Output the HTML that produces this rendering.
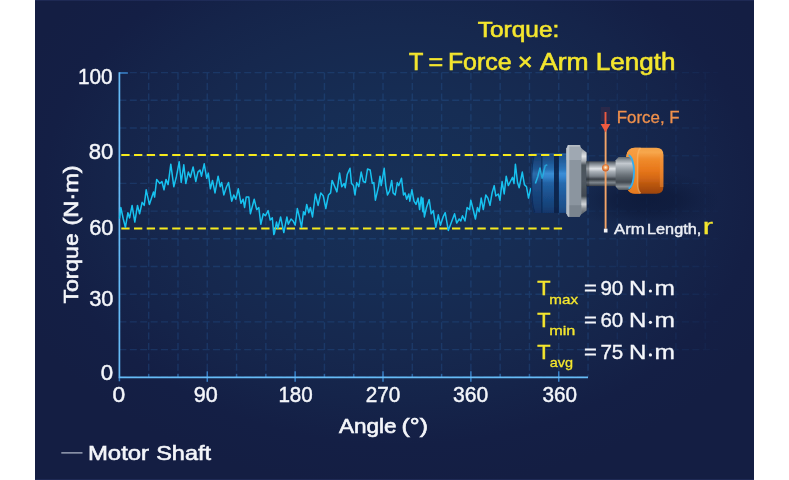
<!DOCTYPE html>
<html><head><meta charset="utf-8"><title>Torque</title>
<style>
html,body{margin:0;padding:0;background:#fff;}
body{width:789px;height:480px;overflow:hidden;}
svg{display:block;font-family:"Liberation Sans",sans-serif;}
</style></head><body>
<svg width="789" height="480" viewBox="0 0 789 480">
<defs>
<radialGradient id="bg" gradientUnits="userSpaceOnUse" cx="400" cy="190" r="420" gradientTransform="translate(400,190) scale(1,0.714) translate(-400,-190)">
<stop offset="0" stop-color="#173057"/>
<stop offset="0.3" stop-color="#162d54"/>
<stop offset="0.55" stop-color="#16284e"/>
<stop offset="0.7" stop-color="#15244a"/>
<stop offset="0.85" stop-color="#141f45"/>
<stop offset="1" stop-color="#141e43"/>
</radialGradient>
<radialGradient id="bg2" gradientUnits="userSpaceOnUse" cx="650" cy="120" r="230" gradientTransform="translate(650,120) scale(1,0.8) translate(-650,-120)">
<stop offset="0" stop-color="#24467f" stop-opacity="0.34"/>
<stop offset="0.5" stop-color="#24467f" stop-opacity="0.2"/>
<stop offset="1" stop-color="#24467f" stop-opacity="0"/>
</radialGradient>
<radialGradient id="shg" cx="0.5" cy="0.5" r="0.5">
<stop offset="0" stop-color="#0a1432" stop-opacity="0.62"/>
<stop offset="0.4" stop-color="#0a1432" stop-opacity="0.5"/>
<stop offset="0.72" stop-color="#0a1432" stop-opacity="0.18"/>
<stop offset="1" stop-color="#0a1432" stop-opacity="0"/>
</radialGradient>
<linearGradient id="gridfade" gradientUnits="userSpaceOnUse" x1="588" y1="0" x2="720" y2="0">
<stop offset="0" stop-color="#fff" stop-opacity="1"/>
<stop offset="0.8" stop-color="#fff" stop-opacity="0.85"/>
<stop offset="1" stop-color="#fff" stop-opacity="0.2"/>
</linearGradient>
<mask id="gm" maskUnits="userSpaceOnUse" x="0" y="0" width="789" height="480"><rect x="110" y="60" width="612" height="340" fill="url(#gridfade)"/></mask>
<linearGradient id="shaft" x1="0" y1="0" x2="0" y2="1">
<stop offset="0" stop-color="#4a5158"/>
<stop offset="0.10" stop-color="#7e868e"/>
<stop offset="0.30" stop-color="#dfe3e7"/>
<stop offset="0.42" stop-color="#a9b0b7"/>
<stop offset="0.60" stop-color="#7b838b"/>
<stop offset="0.72" stop-color="#394047"/>
<stop offset="0.86" stop-color="#7d858d"/>
<stop offset="1" stop-color="#3a4047"/>
</linearGradient>
<linearGradient id="flface" x1="0" y1="0" x2="1" y2="0">
<stop offset="0" stop-color="#d4d9de"/>
<stop offset="0.18" stop-color="#b3b9c0"/>
<stop offset="0.75" stop-color="#9aa1a9"/>
<stop offset="1" stop-color="#7d848c"/>
</linearGradient>
<linearGradient id="flside" x1="0" y1="0" x2="0" y2="1">
<stop offset="0" stop-color="#80878e"/>
<stop offset="0.07" stop-color="#b4bac0"/>
<stop offset="0.13" stop-color="#e2e5e8"/>
<stop offset="0.2" stop-color="#a9afb5"/>
<stop offset="0.26" stop-color="#4a525a"/>
<stop offset="0.5" stop-color="#4f5861"/>
<stop offset="0.72" stop-color="#414951"/>
<stop offset="0.78" stop-color="#9aa0a6"/>
<stop offset="0.84" stop-color="#d2d6da"/>
<stop offset="0.9" stop-color="#8a9097"/>
<stop offset="1" stop-color="#50575e"/>
</linearGradient>
<linearGradient id="blue" x1="0" y1="0" x2="0" y2="1">
<stop offset="0" stop-color="#1a447a"/>
<stop offset="0.12" stop-color="#1c548f"/>
<stop offset="0.26" stop-color="#2670b4"/>
<stop offset="0.34" stop-color="#3c92da"/>
<stop offset="0.40" stop-color="#3386cf"/>
<stop offset="0.50" stop-color="#2163a6"/>
<stop offset="0.72" stop-color="#1a4f8c"/>
<stop offset="0.9" stop-color="#164379"/>
<stop offset="1" stop-color="#12356a"/>
</linearGradient>
<linearGradient id="bluex" x1="0" y1="0" x2="1" y2="0">
<stop offset="0" stop-color="#16305e" stop-opacity="0.3"/>
<stop offset="0.06" stop-color="#16305e" stop-opacity="0.12"/>
<stop offset="0.3" stop-color="#16305e" stop-opacity="0.06"/>
<stop offset="0.32" stop-color="#16305e" stop-opacity="0"/>
<stop offset="1" stop-color="#16305e" stop-opacity="0"/>
</linearGradient>
<linearGradient id="orange" x1="0" y1="0" x2="0" y2="1">
<stop offset="0" stop-color="#f3a046"/>
<stop offset="0.1" stop-color="#f7a74c"/>
<stop offset="0.24" stop-color="#f08c2c"/>
<stop offset="0.48" stop-color="#e8781b"/>
<stop offset="0.66" stop-color="#d46815"/>
<stop offset="0.8" stop-color="#b9560f"/>
<stop offset="1" stop-color="#9c440a"/>
</linearGradient>
<linearGradient id="shaft2" x1="0" y1="0" x2="0" y2="1">
<stop offset="0" stop-color="#5c646b"/>
<stop offset="0.08" stop-color="#8a9299"/>
<stop offset="0.2" stop-color="#c3c9cf"/>
<stop offset="0.36" stop-color="#99a1a8"/>
<stop offset="0.55" stop-color="#6a7279"/>
<stop offset="0.76" stop-color="#434a51"/>
<stop offset="0.9" stop-color="#8a9299"/>
<stop offset="1" stop-color="#4a5158"/>
</linearGradient>
<linearGradient id="orim" x1="0" y1="0" x2="0" y2="1">
<stop offset="0" stop-color="#f6a048"/>
<stop offset="0.2" stop-color="#f7983a"/>
<stop offset="0.6" stop-color="#f38a28"/>
<stop offset="1" stop-color="#e47a20"/>
</linearGradient>
<radialGradient id="ball" cx="0.5" cy="0.45" r="0.5">
<stop offset="0" stop-color="#fff0d8"/>
<stop offset="0.35" stop-color="#f6c08a"/>
<stop offset="0.7" stop-color="#e8803c"/>
<stop offset="1" stop-color="#c8602a"/>
</radialGradient>
<linearGradient id="curvefade" gradientUnits="userSpaceOnUse" x1="532" y1="0" x2="550" y2="0">
<stop offset="0" stop-color="#22bff0" stop-opacity="1"/>
<stop offset="1" stop-color="#25bdec" stop-opacity="0.55"/>
</linearGradient>
<filter id="soft" filterUnits="userSpaceOnUse" x="0" y="0" width="789" height="480"><feGaussianBlur stdDeviation="0.45"/></filter>
<filter id="soft2" filterUnits="userSpaceOnUse" x="0" y="0" width="789" height="480"><feGaussianBlur stdDeviation="0.3"/></filter>
<filter id="sh" x="-60%" y="-150%" width="220%" height="400%"><feGaussianBlur stdDeviation="9"/></filter>
</defs>

<rect x="0" y="0" width="789" height="480" fill="#ffffff"/>
<rect x="35" y="0" width="719" height="480" fill="url(#bg)"/>

<rect x="35" y="0" width="719" height="1" fill="#2a386a" opacity="0.45"/>
<rect x="35" y="479" width="719" height="1" fill="#2a386a" opacity="0.45"/>

<!-- grid -->
<g stroke="#2f74c4" stroke-width="1.4" stroke-dasharray="7 3.4" fill="none" opacity="0.21" filter="url(#soft)">
<line x1="119.40" y1="72.6" x2="119.40" y2="377.3"/>
<line x1="148.69" y1="72.6" x2="148.69" y2="377.3"/>
<line x1="177.98" y1="72.6" x2="177.98" y2="377.3"/>
<line x1="207.27" y1="72.6" x2="207.27" y2="377.3"/>
<line x1="236.56" y1="72.6" x2="236.56" y2="377.3"/>
<line x1="265.85" y1="72.6" x2="265.85" y2="377.3"/>
<line x1="295.14" y1="72.6" x2="295.14" y2="377.3"/>
<line x1="324.43" y1="72.6" x2="324.43" y2="377.3"/>
<line x1="353.72" y1="72.6" x2="353.72" y2="377.3"/>
<line x1="383.01" y1="72.6" x2="383.01" y2="377.3"/>
<line x1="412.30" y1="72.6" x2="412.30" y2="377.3"/>
<line x1="441.59" y1="72.6" x2="441.59" y2="377.3"/>
<line x1="470.88" y1="72.6" x2="470.88" y2="377.3"/>
<line x1="500.17" y1="72.6" x2="500.17" y2="377.3"/>
<line x1="529.46" y1="72.6" x2="529.46" y2="377.3"/>
<line x1="558.75" y1="72.6" x2="558.75" y2="377.3"/>
<line x1="588.04" y1="72.6" x2="588.04" y2="377.3"/>
<line x1="119.4" y1="72.60" x2="588.0" y2="72.60"/>
<line x1="119.4" y1="100.30" x2="588.0" y2="100.30"/>
<line x1="119.4" y1="128.00" x2="588.0" y2="128.00"/>
<line x1="119.4" y1="155.70" x2="588.0" y2="155.70"/>
<line x1="119.4" y1="183.40" x2="588.0" y2="183.40"/>
<line x1="119.4" y1="211.10" x2="588.0" y2="211.10"/>
<line x1="119.4" y1="238.80" x2="588.0" y2="238.80"/>
<line x1="119.4" y1="266.50" x2="588.0" y2="266.50"/>
<line x1="119.4" y1="294.20" x2="588.0" y2="294.20"/>
<line x1="119.4" y1="321.90" x2="588.0" y2="321.90"/>
<line x1="119.4" y1="349.60" x2="588.0" y2="349.60"/>
<line x1="119.4" y1="377.30" x2="588.0" y2="377.30"/>
</g>
<g mask="url(#gm)"><g stroke="#2f74c4" stroke-width="1.4" stroke-dasharray="7 3.4" fill="none" opacity="0.12" filter="url(#soft)">
<line x1="617.33" y1="72.6" x2="617.33" y2="353.6"/>
<line x1="646.62" y1="72.6" x2="646.62" y2="353.6"/>
<line x1="675.91" y1="72.6" x2="675.91" y2="353.6"/>
<line x1="705.20" y1="72.6" x2="705.20" y2="353.6"/>
<line x1="588.4" y1="72.60" x2="718.0" y2="72.60"/>
<line x1="588.4" y1="100.30" x2="718.0" y2="100.30"/>
<line x1="588.4" y1="128.00" x2="718.0" y2="128.00"/>
<line x1="588.4" y1="155.70" x2="718.0" y2="155.70"/>
<line x1="588.4" y1="183.40" x2="718.0" y2="183.40"/>
<line x1="588.4" y1="211.10" x2="718.0" y2="211.10"/>
<line x1="588.4" y1="238.80" x2="718.0" y2="238.80"/>
<line x1="588.4" y1="266.50" x2="718.0" y2="266.50"/>
<line x1="588.4" y1="294.20" x2="718.0" y2="294.20"/>
<line x1="588.4" y1="321.90" x2="718.0" y2="321.90"/>
<line x1="588.4" y1="349.60" x2="718.0" y2="349.60"/>
</g></g>

<!-- axes -->
<g filter="url(#soft2)">
<g stroke="#3f90dc" stroke-width="1.5" fill="none" opacity="0.85">
<line x1="148.69" y1="373.8" x2="148.69" y2="377.3" opacity="0.6"/>
<line x1="177.98" y1="373.8" x2="177.98" y2="377.3" opacity="0.6"/>
<line x1="207.27" y1="371.3" x2="207.27" y2="381.8"/>
<line x1="236.56" y1="373.8" x2="236.56" y2="377.3" opacity="0.6"/>
<line x1="265.85" y1="373.8" x2="265.85" y2="377.3" opacity="0.6"/>
<line x1="295.14" y1="371.3" x2="295.14" y2="381.8"/>
<line x1="324.43" y1="373.8" x2="324.43" y2="377.3" opacity="0.6"/>
<line x1="353.72" y1="373.8" x2="353.72" y2="377.3" opacity="0.6"/>
<line x1="383.01" y1="371.3" x2="383.01" y2="381.8"/>
<line x1="412.30" y1="373.8" x2="412.30" y2="377.3" opacity="0.6"/>
<line x1="441.59" y1="373.8" x2="441.59" y2="377.3" opacity="0.6"/>
<line x1="470.88" y1="371.3" x2="470.88" y2="381.8"/>
<line x1="500.17" y1="373.8" x2="500.17" y2="377.3" opacity="0.6"/>
<line x1="529.46" y1="373.8" x2="529.46" y2="377.3" opacity="0.6"/>
<line x1="558.75" y1="371.3" x2="558.75" y2="381.8"/>
<line x1="119.40" y1="377.3" x2="119.40" y2="381.3"/>
<line x1="119.40" y1="73.0" x2="127.90" y2="73.0"/>
</g>
<path d="M119.4 72.2 V377.3 H588.0" stroke="#66bbf6" stroke-width="1.7" fill="none" stroke-linejoin="miter"/>
</g>

<!-- dashed yellow -->
<g stroke="#f6ea1e" stroke-width="1.8" stroke-dasharray="8.3 4.42" fill="none" filter="url(#soft2)">
<line x1="121.3" y1="228.5" x2="563" y2="228.5"/>
</g>

<!-- curve -->
<path d="M119.6 217.9 L120.8 207.5 L123.3 219.0 L125.4 227.3 L127.9 212.7 L129.6 217.9 L132.1 205.4 L134.8 222.1 L137.5 205.4 L139.6 213.8 L142.1 202.3 L144.2 205.4 L146.2 189.8 L149.4 204.4 L153.5 191.9 L154.6 197.1 L156.7 179.4 L159.8 183.5 L161.9 181.5 L164.0 189.8 L166.0 179.4 L168.1 184.6 L170.8 164.2 L173.8 186.7 L176.5 176.2 L179.2 161.7 L181.2 182.5 L183.8 164.8 L185.8 183.5 L188.3 172.1 L190.4 177.3 L193.1 166.9 L195.8 181.5 L197.9 172.1 L200.0 170.0 L201.5 176.2 L204.2 163.8 L206.7 178.3 L208.3 173.1 L210.4 188.8 L212.5 180.4 L215.0 192.9 L218.1 176.2 L220.2 186.7 L221.7 182.5 L223.8 195.0 L226.5 186.7 L228.5 182.5 L231.7 201.2 L233.8 195.0 L235.8 199.2 L238.3 188.8 L241.0 203.3 L243.1 199.2 L244.6 207.5 L246.2 197.1 L248.8 197.1 L250.4 213.8 L254.2 199.2 L256.7 209.6 L258.8 207.5 L260.8 224.2 L263.3 213.8 L265.4 215.8 L268.1 210.6 L270.2 220.0 L272.3 217.9 L273.8 234.6 L274.4 233.5 L276.5 222.1 L277.9 228.3 L280.6 216.9 L283.8 232.5 L286.9 216.9 L288.3 224.2 L291.0 219.0 L293.1 221.0 L295.2 225.2 L297.3 208.5 L299.4 216.9 L301.5 227.3 L303.5 211.7 L305.0 214.8 L306.7 204.4 L308.8 212.7 L310.4 207.5 L312.5 216.9 L315.4 194.0 L318.1 205.4 L320.8 192.9 L323.3 196.0 L325.8 208.5 L328.5 195.0 L330.6 192.9 L332.1 180.4 L334.8 186.7 L336.9 191.9 L339.6 173.1 L341.7 186.7 L344.2 183.5 L345.2 187.7 L347.3 174.2 L350.0 168.3 L351.5 183.5 L353.5 185.6 L355.0 195.0 L356.7 182.5 L358.8 186.7 L361.2 172.1 L363.3 181.5 L365.4 182.5 L367.5 169.0 L370.2 170.0 L372.3 183.5 L373.8 182.5 L375.4 200.2 L378.5 186.7 L380.0 176.2 L381.2 185.6 L384.2 168.3 L385.8 185.6 L387.5 195.0 L389.6 190.8 L391.7 180.4 L393.1 192.9 L395.2 195.0 L397.3 182.5 L398.8 185.6 L401.5 178.3 L403.5 195.0 L405.0 192.9 L406.7 199.2 L408.8 194.0 L409.8 201.2 L411.9 189.8 L414.0 201.2 L416.0 204.4 L418.1 198.1 L419.6 209.6 L421.2 197.1 L422.9 211.7 L422.9 198.1 L424.4 216.9 L426.5 207.5 L429.2 199.6 L431.2 213.8 L433.3 210.6 L435.8 227.3 L438.3 214.8 L440.4 225.2 L443.1 216.9 L445.2 212.7 L448.3 230.4 L451.5 222.1 L454.6 213.8 L456.7 223.1 L459.2 219.0 L460.8 221.0 L462.5 215.8 L465.0 221.0 L467.1 207.5 L469.6 209.6 L470.8 200.2 L472.9 208.5 L475.4 219.0 L477.5 207.5 L479.2 211.7 L481.2 198.1 L483.3 209.6 L485.8 195.0 L487.9 198.1 L490.0 205.4 L492.1 192.9 L494.2 185.6 L495.8 196.0 L498.3 194.0 L500.0 200.2 L502.1 181.5 L504.2 194.0 L506.2 176.2 L508.3 185.6 L510.4 181.5 L512.5 177.3 L514.0 183.5 L515.4 164.2 L517.5 182.5 L519.2 187.7 L522.3 172.1 L524.4 184.6 L526.5 186.7 L528.5 198.1 L530.6 188.8 L532.1 187.7 L533.8 170.0 L535.4 183.5" stroke="#18c2f0" stroke-width="1.5" fill="none" stroke-linejoin="round" stroke-linecap="round" filter="url(#soft2)"/>

<!-- motor -->
<ellipse cx="646" cy="200" rx="74" ry="30" fill="url(#shg)"/>
<g id="motor" filter="url(#soft)">

<!-- blue cylinder -->
<path d="M534 153.4 H567 V213 H534 Q531 205 531 183 Q531 161 534 153.4Z" fill="url(#blue)" opacity="0.96"/>
<path d="M534 153.4 H541.6 V213 H534 Q531 205 531 183 Q531 161 534 153.4Z" fill="#14305e" opacity="0.38"/>
<path d="M534.6 154 Q531.6 162 531.6 183 Q531.6 204 534.6 212.4" fill="none" stroke="#0d2450" stroke-width="1.2" opacity="0.7"/>
<rect x="541.2" y="153.4" width="1.3" height="59.6" fill="#0d2854" opacity="0.85"/>
<rect x="554" y="153.4" width="4.9" height="59.6" fill="#0a2044" opacity="0.88"/>
<rect x="531" y="153.4" width="36" height="1.2" fill="#3f86c8" opacity="0.35"/>
<rect x="558.9" y="153.6" width="8" height="59.2" fill="#3a8fe0" opacity="0.2"/>
<!-- flange side -->
<path d="M580.5 147.5 L586.6 152.5 V210.5 L580.5 215 Z" fill="url(#flside)"/>
<!-- flange face -->
<path d="M568.2 145.3 H579.6 L581.3 148.6 V213.6 L579.6 216.7 H568.2 L566.4 213.6 V148.6 Z" fill="#8b959f"/>
<path d="M568.2 145.3 H579.6 L581.3 148.6 V159.9 H566.4 V148.6 Z" fill="#9fa8b2"/>
<path d="M566.4 205.3 H581.3 V213.6 L579.6 216.7 H568.2 L566.4 213.6 Z" fill="#7a848e"/>
<path d="M568.2 145.3 L566.4 148.6 V213.6 L568.2 216.7 H569.3 V145.3 Z" fill="#c2cad2" opacity="0.85"/>
<rect x="567.4" y="145.3" width="13" height="1.1" fill="#d5dade" opacity="0.7"/>
<!-- orange cap -->
<path d="M635 147.7 H656.3 Q663.4 147.7 663.4 155 V186.4 Q663.4 193.7 656.3 193.7 H635 Q626.1 193.7 626.1 182 V159.4 Q626.1 147.7 635 147.7Z" fill="url(#orange)"/>
<path d="M635 147.7 H640.5 Q637 150 637 158 V183.4 Q637 191.4 640.5 193.7 H635 Q626.1 193.7 626.1 182 V159.4 Q626.1 147.7 635 147.7Z" fill="url(#orim)"/>
<path d="M640.6 148.2 Q637.6 150.5 637.6 158 V183.4 Q637.6 191 640.6 193.2" fill="none" stroke="#fbb668" stroke-width="1.5" opacity="0.7"/>
<rect x="659.8" y="154" width="3.6" height="33" fill="#f59c46" opacity="0.4"/>
<!-- shaft -->
<rect x="586.3" y="161.3" width="30" height="24.8" fill="url(#shaft)"/>
<rect x="586.3" y="161.3" width="3" height="24.8" fill="#20262c" opacity="0.35"/>
<path d="M615.6 160.2 L618.6 156.9 H628.6 A6 16.6 0 0 1 628.6 190 H618.6 L615.6 186.5 Z" fill="url(#shaft2)"/>
<path d="M628.6 155.2 A6.1 16.7 0 0 1 628.6 188.4" fill="none" stroke="#30aef2" stroke-width="1.8"/>
</g>
<path d="M535.4 183.5 L537.9 176.2 L540.0 167.9 L542.1 178.3 L545.2 165.8 L547.3 164.8" stroke="url(#curvefade)" stroke-width="1.5" fill="none" stroke-linejoin="round" filter="url(#soft2)"/>
<line x1="121.3" y1="155" x2="563" y2="155" stroke="#f6ea1e" stroke-width="1.8" stroke-dasharray="8.3 4.42" filter="url(#soft2)"/>

<!-- force line -->
<rect x="600.8" y="107" width="9.2" height="14" fill="#b03030" opacity="0.14"/>
<g filter="url(#soft2)">
<line x1="605.6" y1="129" x2="605.6" y2="228.8" stroke="#f2a468" stroke-width="1.9"/>
<line x1="605.5" y1="112" x2="605.5" y2="126" stroke="#ee5a40" stroke-width="1.9"/>
<path d="M600.6 124 H610.4 L605.5 132.2Z" fill="#ee5a40"/>
<circle cx="605.6" cy="167.8" r="3.6" fill="url(#ball)"/>
<rect x="603.9" y="228.7" width="3.6" height="3.8" fill="#f2f4f8"/>
</g>

<!-- legend -->
<line x1="61.3" y1="452.9" x2="82.5" y2="452.9" stroke="#c6cedc" stroke-width="1.1"/>

<!-- text -->
<g filter="url(#soft2)">
<text x="477.8" y="37.3" font-size="22.0" fill="#f4e62e" stroke="#f4e62e" stroke-width="0.60" textLength="81.5" lengthAdjust="spacingAndGlyphs" >Torque:</text>
<text x="408.9" y="69.7" font-size="24.4" fill="#f4e62e" stroke="#f4e62e" stroke-width="0.70" textLength="14.3" lengthAdjust="spacingAndGlyphs" >T</text>
<text x="428.4" y="69.7" font-size="24.4" fill="#f4e62e" stroke="#f4e62e" stroke-width="0.60" textLength="14.7" lengthAdjust="spacingAndGlyphs" >=</text>
<text x="447.9" y="69.7" font-size="24.4" fill="#f4e62e" stroke="#f4e62e" stroke-width="0.60" textLength="63.7" lengthAdjust="spacingAndGlyphs" >Force</text>
<text x="517.7" y="69.7" font-size="24.4" fill="#f4e62e" stroke="#f4e62e" stroke-width="0.60" textLength="14.9" lengthAdjust="spacingAndGlyphs" >×</text>
<text x="540.1" y="69.7" font-size="24.4" fill="#f4e62e" stroke="#f4e62e" stroke-width="0.60" textLength="48.6" lengthAdjust="spacingAndGlyphs" >Arm</text>
<text x="595.8" y="69.7" font-size="24.4" fill="#f4e62e" stroke="#f4e62e" stroke-width="0.60" textLength="79.6" lengthAdjust="spacingAndGlyphs" >Length</text>
<text x="78.0" y="83.9" font-size="21.2" fill="#f4f6fa" stroke="#f4f6fa" stroke-width="0.45" textLength="34.6" lengthAdjust="spacingAndGlyphs" >100</text>
<text x="88.8" y="158.5" font-size="21.2" fill="#f4f6fa" stroke="#f4f6fa" stroke-width="0.45" textLength="24.6" lengthAdjust="spacingAndGlyphs" >80</text>
<text x="89.2" y="235.2" font-size="21.2" fill="#f4f6fa" stroke="#f4f6fa" stroke-width="0.45" textLength="24.2" lengthAdjust="spacingAndGlyphs" >60</text>
<text x="89.2" y="305.8" font-size="21.2" fill="#f4f6fa" stroke="#f4f6fa" stroke-width="0.45" textLength="24.3" lengthAdjust="spacingAndGlyphs" >30</text>
<text x="100.7" y="379.8" font-size="21.2" fill="#f4f6fa" stroke="#f4f6fa" stroke-width="0.45" textLength="12.4" lengthAdjust="spacingAndGlyphs" >0</text>
<text x="112.5" y="402.0" font-size="21.2" fill="#f4f6fa" stroke="#f4f6fa" stroke-width="0.45" textLength="12.7" lengthAdjust="spacingAndGlyphs" >0</text>
<text x="193.8" y="402.0" font-size="21.2" fill="#f4f6fa" stroke="#f4f6fa" stroke-width="0.45" textLength="24.0" lengthAdjust="spacingAndGlyphs" >90</text>
<text x="278.4" y="402.0" font-size="21.2" fill="#f4f6fa" stroke="#f4f6fa" stroke-width="0.45" textLength="34.4" lengthAdjust="spacingAndGlyphs" >180</text>
<text x="365.7" y="402.0" font-size="21.2" fill="#f4f6fa" stroke="#f4f6fa" stroke-width="0.45" textLength="34.6" lengthAdjust="spacingAndGlyphs" >270</text>
<text x="453.1" y="402.0" font-size="21.2" fill="#f4f6fa" stroke="#f4f6fa" stroke-width="0.45" textLength="35.2" lengthAdjust="spacingAndGlyphs" >360</text>
<text x="542.4" y="402.0" font-size="21.2" fill="#f4f6fa" stroke="#f4f6fa" stroke-width="0.45" textLength="34.5" lengthAdjust="spacingAndGlyphs" >360</text>
<text x="338.9" y="433.3" font-size="20.3" fill="#f4f6fa" stroke="#f4f6fa" stroke-width="0.60" textLength="57.6" lengthAdjust="spacingAndGlyphs" >Angle</text>
<text x="401.5" y="433.3" font-size="20.3" fill="#f4f6fa" stroke="#f4f6fa" stroke-width="0.60" textLength="26.4" lengthAdjust="spacingAndGlyphs" >(°)</text>
<text x="87.9" y="460.4" font-size="20.4" fill="#f4f6fa" stroke="#f4f6fa" stroke-width="0.60" textLength="61.2" lengthAdjust="spacingAndGlyphs" >Motor</text>
<text x="156.2" y="460.4" font-size="20.4" fill="#f4f6fa" stroke="#f4f6fa" stroke-width="0.60" textLength="54.8" lengthAdjust="spacingAndGlyphs" >Shaft</text>
<text x="616.8" y="122.6" font-size="17.0" fill="#f0904c" stroke="#f0904c" stroke-width="0.30" textLength="62.8" lengthAdjust="spacingAndGlyphs" >Force, F</text>
<text x="614.1" y="233.8" font-size="14.2" fill="#eceff5" stroke="#eceff5" stroke-width="0.40" textLength="30.6" lengthAdjust="spacingAndGlyphs" >Arm</text>
<text x="647.0" y="233.8" font-size="14.2" fill="#eceff5" stroke="#eceff5" stroke-width="0.40" textLength="54.3" lengthAdjust="spacingAndGlyphs" >Length,</text>
<text x="702.8" y="233.8" font-size="21.5" fill="#f4e62e" stroke="#f4e62e" stroke-width="0.30" textLength="10.3" lengthAdjust="spacingAndGlyphs" >r</text>
<text x="537.2" y="295.3" font-size="19.8" fill="#f4e62e" stroke="#f4e62e" stroke-width="0.40" textLength="13.3" lengthAdjust="spacingAndGlyphs" >T</text>
<text x="549.3" y="303.5" font-size="13.6" fill="#f4e62e" stroke="#f4e62e" stroke-width="0.30" textLength="28.7" lengthAdjust="spacingAndGlyphs" >max</text>
<text x="537.2" y="326.6" font-size="19.8" fill="#f4e62e" stroke="#f4e62e" stroke-width="0.40" textLength="13.3" lengthAdjust="spacingAndGlyphs" >T</text>
<text x="549.2" y="334.8" font-size="13.6" fill="#f4e62e" stroke="#f4e62e" stroke-width="0.30" textLength="26.2" lengthAdjust="spacingAndGlyphs" >min</text>
<text x="537.2" y="359.2" font-size="19.8" fill="#f4e62e" stroke="#f4e62e" stroke-width="0.40" textLength="13.3" lengthAdjust="spacingAndGlyphs" >T</text>
<text x="549.7" y="367.4" font-size="13.6" fill="#f4e62e" stroke="#f4e62e" stroke-width="0.30" textLength="23.3" lengthAdjust="spacingAndGlyphs" >avg</text>
<text x="584.1" y="295.4" font-size="20.2" fill="#f4f6fa" stroke="#f4f6fa" stroke-width="0.35" textLength="12.9" lengthAdjust="spacingAndGlyphs" >=</text>
<text x="600.4" y="295.4" font-size="20.2" fill="#f4f6fa" stroke="#f4f6fa" stroke-width="0.35" textLength="22.8" lengthAdjust="spacingAndGlyphs" >90</text>
<text x="628.9" y="295.4" font-size="20.2" fill="#f4f6fa" stroke="#f4f6fa" stroke-width="0.35" textLength="17.4" lengthAdjust="spacingAndGlyphs" >N</text>
<text x="654.4" y="295.4" font-size="20.2" fill="#f4f6fa" stroke="#f4f6fa" stroke-width="0.35" textLength="20.4" lengthAdjust="spacingAndGlyphs" >m</text>
<text x="584.1" y="326.7" font-size="20.2" fill="#f4f6fa" stroke="#f4f6fa" stroke-width="0.35" textLength="12.9" lengthAdjust="spacingAndGlyphs" >=</text>
<text x="600.4" y="326.7" font-size="20.2" fill="#f4f6fa" stroke="#f4f6fa" stroke-width="0.35" textLength="22.8" lengthAdjust="spacingAndGlyphs" >60</text>
<text x="628.9" y="326.7" font-size="20.2" fill="#f4f6fa" stroke="#f4f6fa" stroke-width="0.35" textLength="17.4" lengthAdjust="spacingAndGlyphs" >N</text>
<text x="654.4" y="326.7" font-size="20.2" fill="#f4f6fa" stroke="#f4f6fa" stroke-width="0.35" textLength="20.4" lengthAdjust="spacingAndGlyphs" >m</text>
<text x="584.1" y="359.3" font-size="20.2" fill="#f4f6fa" stroke="#f4f6fa" stroke-width="0.35" textLength="12.9" lengthAdjust="spacingAndGlyphs" >=</text>
<text x="600.4" y="359.3" font-size="20.2" fill="#f4f6fa" stroke="#f4f6fa" stroke-width="0.35" textLength="22.9" lengthAdjust="spacingAndGlyphs" >75</text>
<text x="628.9" y="359.3" font-size="20.2" fill="#f4f6fa" stroke="#f4f6fa" stroke-width="0.35" textLength="17.4" lengthAdjust="spacingAndGlyphs" >N</text>
<text x="654.4" y="359.3" font-size="20.2" fill="#f4f6fa" stroke="#f4f6fa" stroke-width="0.35" textLength="20.4" lengthAdjust="spacingAndGlyphs" >m</text>
<g transform="translate(77.9,303.1) rotate(-90)"><text x="-0.5" y="0.0" font-size="20.6" fill="#f4f6fa" stroke="#f4f6fa" stroke-width="0.60" textLength="70.3" lengthAdjust="spacingAndGlyphs" >Torque</text><text x="77.6" y="0.0" font-size="20.6" fill="#f4f6fa" stroke="#f4f6fa" stroke-width="0.60" textLength="60.1" lengthAdjust="spacingAndGlyphs" >(N·m)</text></g>
<circle cx="650.4" cy="291.0" r="1.6" fill="#f4f6fa"/>
<circle cx="650.4" cy="322.3" r="1.6" fill="#f4f6fa"/>
<circle cx="650.4" cy="354.9" r="1.6" fill="#f4f6fa"/>
</g>
</svg>
</body></html>
